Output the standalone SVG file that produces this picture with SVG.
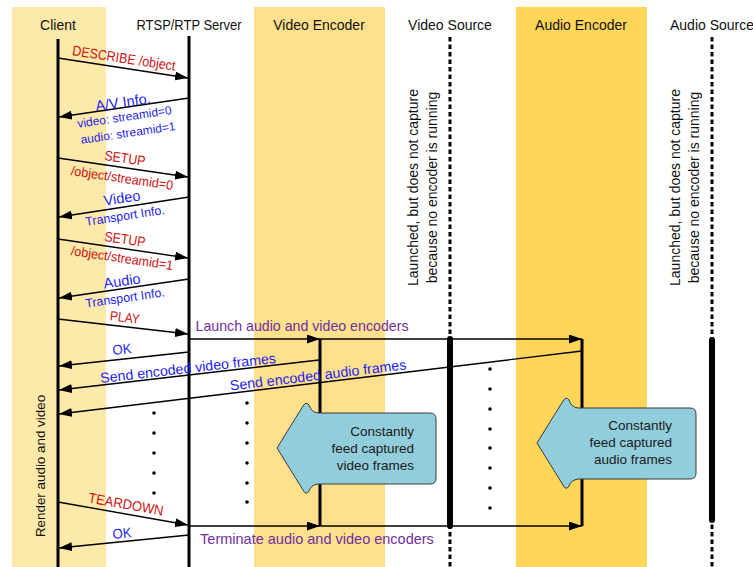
<svg xmlns="http://www.w3.org/2000/svg" width="753" height="567" viewBox="0 0 753 567">
  <style>
    text { font-family: "Liberation Sans", Arial, sans-serif; }
    .hdr { font-size: 14px; fill: #111; text-anchor: middle; }
    .life { stroke: #000; stroke-width: 3; fill: none; }
    .dash { stroke: #000; stroke-width: 3; stroke-dasharray: 4.5 3; fill: none; }
    .active { stroke: #000; stroke-width: 6; stroke-linecap: round; fill: none; }
    .msg { stroke: #000; stroke-width: 1.4; fill: none; marker-end: url(#head); }
    .req { fill: #CC1111; text-anchor: middle; }
    .rsp { fill: #1F1FF0; text-anchor: middle; }
    .ctl { fill: #7030A0; text-anchor: middle; font-size: 14.2px; }
    .note { font-size: 14px; fill: #111; text-anchor: middle; }
    .callout { fill: #92CDDC; stroke: #3A3A3A; stroke-width: 1; }
    .ctext { font-size: 13.5px; fill: #1a1a1a; text-anchor: end; }
    .dot { fill: #000; }
  </style>
  <defs>
    <marker id="head" markerUnits="userSpaceOnUse" markerWidth="13" markerHeight="9" refX="13" refY="4.5" orient="auto">
      <path d="M0,0 L13,4.5 L0,9 Z" fill="#000"/>
    </marker>
    <path id="feed-arrow" d="M277,448 L303,406 Q306,401 309,405 Q311,412 318,413 L430,413 Q436,413 436,419 L436,478 Q436,484 430,484 L318,484 Q311,485 309,491 Q306,496 303,490 Z"/>
  </defs>

  <!-- participant bands -->
  <rect x="12" y="7" width="94" height="560" fill="#FDE9A9"/>
  <rect x="254" y="7" width="131" height="560" fill="#FFE08C"/>
  <rect x="516" y="7" width="131" height="560" fill="#FFD55A"/>

  <g id="client">
    <text class="hdr" x="58" y="30">Client</text>
    <line class="life" x1="58" y1="39" x2="58" y2="567"/>
    <text class="note" transform="translate(45,466) rotate(-90)" style="font-size:13.4px">Render audio and video</text>
  </g>

  <g id="rtsp-server">
    <text class="hdr" x="189" y="30" textLength="105" lengthAdjust="spacingAndGlyphs">RTSP/RTP Server</text>
    <line class="life" x1="189" y1="36" x2="189" y2="567"/>
    <g class="dot">
      <circle cx="154" cy="413" r="1.8"/><circle cx="154" cy="433" r="1.8"/><circle cx="154" cy="453" r="1.8"/>
      <circle cx="154" cy="473" r="1.8"/><circle cx="154" cy="493" r="1.8"/>
      <circle cx="247" cy="403" r="1.8"/><circle cx="247" cy="423" r="1.8"/><circle cx="247" cy="443" r="1.8"/>
      <circle cx="247" cy="463" r="1.8"/><circle cx="247" cy="483" r="1.8"/><circle cx="247" cy="502" r="1.8"/>
    </g>
  </g>

  <g id="video-encoder">
    <text class="hdr" x="319" y="30">Video Encoder</text>
    <line class="life" x1="320" y1="339" x2="320" y2="526"/>
  </g>

  <g id="video-source">
    <text class="hdr" x="450" y="30">Video Source</text>
    <line class="dash" x1="450" y1="37" x2="450" y2="567"/>
    <line class="active" x1="450" y1="339" x2="450" y2="526"/>
    <text class="note" transform="translate(418,187.5) rotate(-90)">Launched, but does not capture</text>
    <text class="note" transform="translate(437,187.5) rotate(-90)">because no encoder is running</text>
    <g class="dot">
      <circle cx="490" cy="369" r="1.8"/><circle cx="490" cy="389" r="1.8"/><circle cx="490" cy="409" r="1.8"/>
      <circle cx="490" cy="429" r="1.8"/><circle cx="490" cy="448" r="1.8"/><circle cx="490" cy="468" r="1.8"/>
      <circle cx="490" cy="488" r="1.8"/><circle cx="490" cy="508" r="1.8"/>
    </g>
  </g>

  <g id="audio-encoder">
    <text class="hdr" x="581" y="30">Audio Encoder</text>
    <line class="life" x1="582" y1="339" x2="582" y2="526"/>
  </g>

  <g id="audio-source">
    <text class="hdr" x="712" y="30">Audio Source</text>
    <line class="dash" x1="712" y1="37" x2="712" y2="567"/>
    <line class="active" x1="712" y1="340" x2="712" y2="520"/>
    <text class="note" transform="translate(680,187.5) rotate(-90)">Launched, but does not capture</text>
    <text class="note" transform="translate(699,187.5) rotate(-90)">because no encoder is running</text>
  </g>

  <!-- messages -->
  <g id="connectors">
    <line class="msg" x1="58" y1="58" x2="188" y2="78"/>
    <line class="msg" x1="189" y1="98" x2="59" y2="117"/>
    <line class="msg" x1="58" y1="158" x2="188" y2="177"/>
    <line class="msg" x1="189" y1="197" x2="59" y2="217"/>
    <line class="msg" x1="58" y1="239" x2="188" y2="258"/>
    <line class="msg" x1="189" y1="279" x2="59" y2="298"/>
    <line class="msg" x1="58" y1="319" x2="188" y2="334"/>
    <line class="msg" x1="189" y1="339" x2="320" y2="339"/>
    <line class="msg" x1="320" y1="339" x2="582" y2="339"/>
    <line class="msg" x1="189" y1="352" x2="59" y2="366"/>
    <line class="msg" x1="319" y1="360" x2="59" y2="390"/>
    <line class="msg" x1="582" y1="351" x2="59" y2="414"/>
    <line class="msg" x1="58" y1="502" x2="188" y2="525"/>
    <line class="msg" x1="189" y1="526" x2="320" y2="526"/>
    <line class="msg" x1="320" y1="526" x2="582" y2="526"/>
    <line class="msg" x1="189" y1="535" x2="59" y2="548"/>

    <text class="req" transform="translate(124,58) rotate(8.7)" y="5" style="font-size:14px" textLength="104" lengthAdjust="spacingAndGlyphs">DESCRIBE /object</text>
    <text class="rsp" transform="translate(123,102) rotate(-8.3)" y="5" style="font-size:14.5px">A/V Info.</text>
    <text class="rsp" transform="translate(124.5,117) rotate(-8.3)" y="4" style="font-size:12px">video: streamid=0</text>
    <text class="rsp" transform="translate(128,133) rotate(-8.3)" y="4" style="font-size:12px">audio: streamid=1</text>
    <text class="req" transform="translate(125,158) rotate(8.3)" y="5" style="font-size:14px" textLength="41" lengthAdjust="spacingAndGlyphs">SETUP</text>
    <text class="req" transform="translate(122,178) rotate(8.3)" y="4.5" style="font-size:13.2px" textLength="103" lengthAdjust="spacingAndGlyphs">/object/streamid=0</text>
    <text class="rsp" transform="translate(122,198) rotate(-8.7)" y="5" style="font-size:14.5px">Video</text>
    <text class="rsp" transform="translate(125,216) rotate(-8.7)" y="4" style="font-size:12.5px" textLength="80" lengthAdjust="spacingAndGlyphs">Transport Info.</text>
    <text class="req" transform="translate(125,239) rotate(8.3)" y="5" style="font-size:14px" textLength="41" lengthAdjust="spacingAndGlyphs">SETUP</text>
    <text class="req" transform="translate(122,258) rotate(8.3)" y="4.5" style="font-size:13.2px" textLength="103" lengthAdjust="spacingAndGlyphs">/object/streamid=1</text>
    <text class="rsp" transform="translate(122,281) rotate(-8.3)" y="5" style="font-size:14.5px">Audio</text>
    <text class="rsp" transform="translate(125,298) rotate(-8.3)" y="4" style="font-size:12.5px" textLength="80" lengthAdjust="spacingAndGlyphs">Transport Info.</text>
    <text class="req" transform="translate(125,317) rotate(6.6)" y="5" style="font-size:13.5px" textLength="30" lengthAdjust="spacingAndGlyphs">PLAY</text>
    <text class="ctl" x="302" y="331">Launch audio and video encoders</text>
    <text class="rsp" transform="translate(122,349) rotate(-6.1)" y="5" style="font-size:14px" textLength="19" lengthAdjust="spacingAndGlyphs">OK</text>
    <text class="rsp" transform="translate(188,368) rotate(-6.6)" y="5" style="font-size:14.2px">Send encoded video frames</text>
    <text class="rsp" transform="translate(318,375) rotate(-6.9)" y="5" style="font-size:14.2px">Send encoded audio frames</text>
    <text class="req" transform="translate(126,504) rotate(10)" y="5" style="font-size:14px" textLength="76" lengthAdjust="spacingAndGlyphs">TEARDOWN</text>
    <text class="ctl" x="317" y="544" style="font-size:14.5px">Terminate audio and video encoders</text>
    <text class="rsp" transform="translate(122,533) rotate(-5.7)" y="5" style="font-size:14px" textLength="19" lengthAdjust="spacingAndGlyphs">OK</text>
  </g>

  <g id="video-feed">
    <use href="#feed-arrow" class="callout"/>
    <text class="ctext" x="414" y="436">Constantly</text>
    <text class="ctext" x="414" y="453">feed captured</text>
    <text class="ctext" x="414" y="470">video frames</text>
  </g>

  <g id="audio-feed">
    <use href="#feed-arrow" class="callout" transform="translate(260,-5)"/>
    <text class="ctext" x="672" y="430">Constantly</text>
    <text class="ctext" x="672" y="447">feed captured</text>
    <text class="ctext" x="672" y="463.5">audio frames</text>
  </g>
</svg>
